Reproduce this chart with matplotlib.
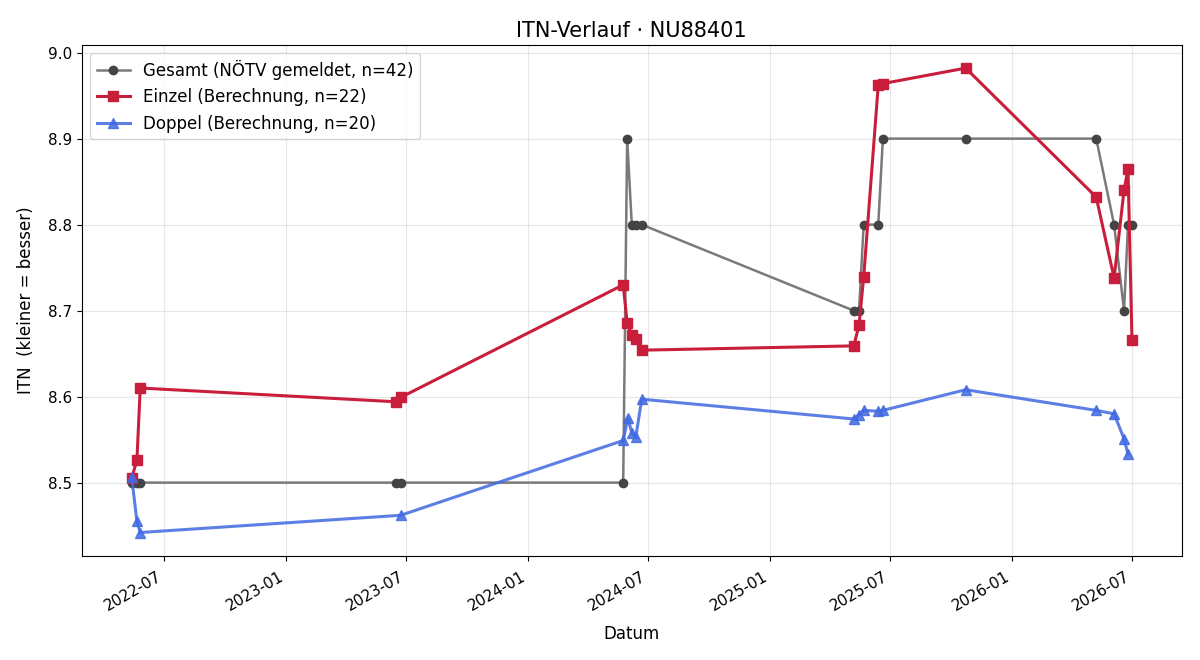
import pandas as pd
import matplotlib
matplotlib.use("Agg")
import matplotlib.pyplot as plt
import matplotlib.dates as mdates

# Gesamt (NÖTV gemeldet)
gesamt_dates = ["2022-05-13", "2022-05-21", "2022-05-26",
                "2023-06-16", "2023-06-23",
                "2024-05-24", "2024-05-30", "2024-06-06", "2024-06-12", "2024-06-21",
                "2025-05-07", "2025-05-15", "2025-05-22", "2025-06-13", "2025-06-20",
                "2025-10-23",
                "2026-05-08", "2026-06-04", "2026-06-19", "2026-06-25", "2026-07-01"]
gesamt_itn = [8.5, 8.5, 8.5,
              8.5, 8.5,
              8.5, 8.9, 8.8, 8.8, 8.8,
              8.7, 8.7, 8.8, 8.8, 8.9,
              8.9,
              8.9, 8.8, 8.7, 8.8, 8.8]

# Einzel (Berechnung)
einzel_dates = ["2022-05-13", "2022-05-21", "2022-05-26",
                "2023-06-16", "2023-06-23",
                "2024-05-24", "2024-05-30", "2024-06-06", "2024-06-12", "2024-06-21",
                "2025-05-07", "2025-05-15", "2025-05-22", "2025-06-13", "2025-06-20",
                "2025-10-23",
                "2026-05-08", "2026-06-04", "2026-06-19", "2026-06-25", "2026-07-01"]
einzel_itn = [8.505, 8.526, 8.610,
              8.594, 8.599,
              8.730, 8.686, 8.672, 8.667, 8.654,
              8.659, 8.683, 8.739, 8.962, 8.964,
              8.982,
              8.832, 8.738, 8.840, 8.865, 8.666]

# Doppel (Berechnung)
doppel_dates = ["2022-05-13", "2022-05-21", "2022-05-26",
                "2023-06-23",
                "2024-05-24", "2024-05-31", "2024-06-06", "2024-06-12", "2024-06-21",
                "2025-05-07", "2025-05-15", "2025-05-22", "2025-06-13", "2025-06-20",
                "2025-10-23",
                "2026-05-08", "2026-06-04", "2026-06-19", "2026-06-25"]
doppel_itn = [8.507, 8.455, 8.442,
              8.462,
              8.549, 8.575, 8.558, 8.553, 8.597,
              8.574, 8.579, 8.584, 8.583, 8.584,
              8.608,
              8.584, 8.580, 8.551, 8.533]

fig, ax = plt.subplots(figsize=(12, 6.6), dpi=100)
fig.subplots_adjust(left=0.068, right=0.985, top=0.932, bottom=0.158)

ax.plot(pd.to_datetime(gesamt_dates), gesamt_itn, marker="o", markersize=6,
        color="#7a7a7a", markerfacecolor="#444444", markeredgecolor="#444444",
        linewidth=1.8, label="Gesamt (NÖTV gemeldet, n=42)")
ax.plot(pd.to_datetime(einzel_dates), einzel_itn, marker="s", markersize=7,
        color="#c81e3c", linewidth=2.2,
        label="Einzel (Berechnung, n=22)")
ax.plot(pd.to_datetime(doppel_dates), doppel_itn, marker="^", markersize=7,
        color="royalblue", alpha=0.85, linewidth=2.2,
        label="Doppel (Berechnung, n=20)")

ax.set_title("ITN-Verlauf · NU88401", fontsize=15)
ax.set_xlabel("Datum", fontsize=12, labelpad=8)
ax.set_ylabel("ITN  (kleiner = besser)", fontsize=12, labelpad=9)
ax.tick_params(labelsize=11)
ax.tick_params(axis="x", pad=6)
ax.grid(True, alpha=0.3)
ax.legend(loc="upper left", fontsize=12)

ax.xaxis.set_major_locator(mdates.MonthLocator(bymonth=[1, 7]))
ax.xaxis.set_major_formatter(mdates.DateFormatter("%Y-%m"))
for lbl in ax.get_xticklabels():
    lbl.set_rotation(30)
    lbl.set_ha("right")

fig.savefig("out.png")
